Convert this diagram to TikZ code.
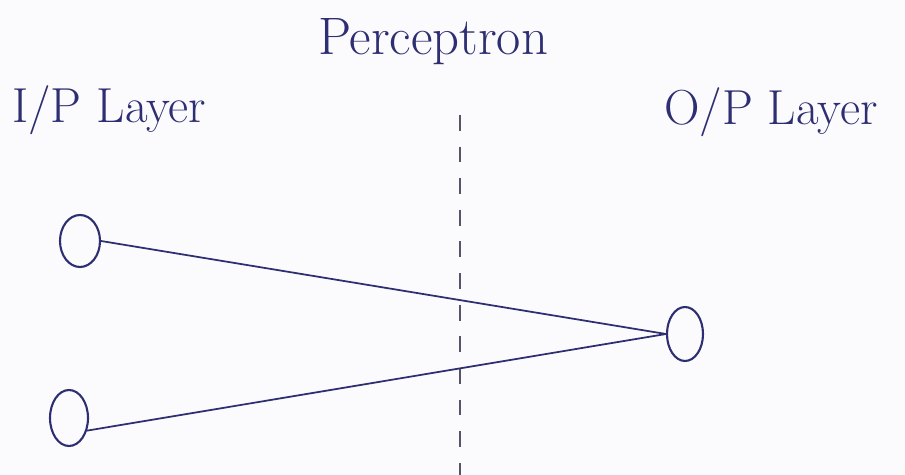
\documentclass[tikz,border=0pt]{standalone}
\usepackage{xcolor}
\usepackage{tikz}
\usetikzlibrary{shapes.geometric}
\definecolor{inkblue}{HTML}{2E2E72}
\definecolor{inkgray}{HTML}{55556A}
\definecolor{paper}{HTML}{FBFBFE}

\begin{document}
\begin{tikzpicture}[x=0.02cm,y=-0.02cm,
    neuron/.style={ellipse,draw=inkblue,line width=1.2pt,inner sep=0pt},
    label/.style={color=inkblue,font=\fontsize{28}{32}\selectfont},
    wire/.style={draw=inkblue,line width=1pt}]
    \fill[paper] (0,0) rectangle (905,475);
    \useasboundingbox (0,0) rectangle (905,475);
    % titles
    \node[label,font=\fontsize{30}{34}\selectfont] (title) at (433,42) {Perceptron};
    \node[label,anchor=west] (inlab) at (6,110) {I/P Layer};
    \node[label,anchor=west] (outlab) at (658,112) {O/P Layer};
    % divider
    \coordinate (top) at (460,115);
    \coordinate (bot) at (460,475);
    \draw[inkgray,line width=1pt,dash pattern=on 9pt off 9pt] (top) -- (bot);
    % neurons
    \node[neuron,minimum width=0.8cm,minimum height=1.04cm] (in1) at (80,241) {};
    \node[neuron,minimum width=0.76cm,minimum height=1.12cm] (in2) at (69,418) {};
    \node[neuron,minimum width=0.72cm,minimum height=1.08cm] (out) at (685,334) {};
    % weights
    \draw[wire] (in1.east) -- (out.west);
    \draw[wire] (in2.-35) -- (out.west);
\end{tikzpicture}
\end{document}
